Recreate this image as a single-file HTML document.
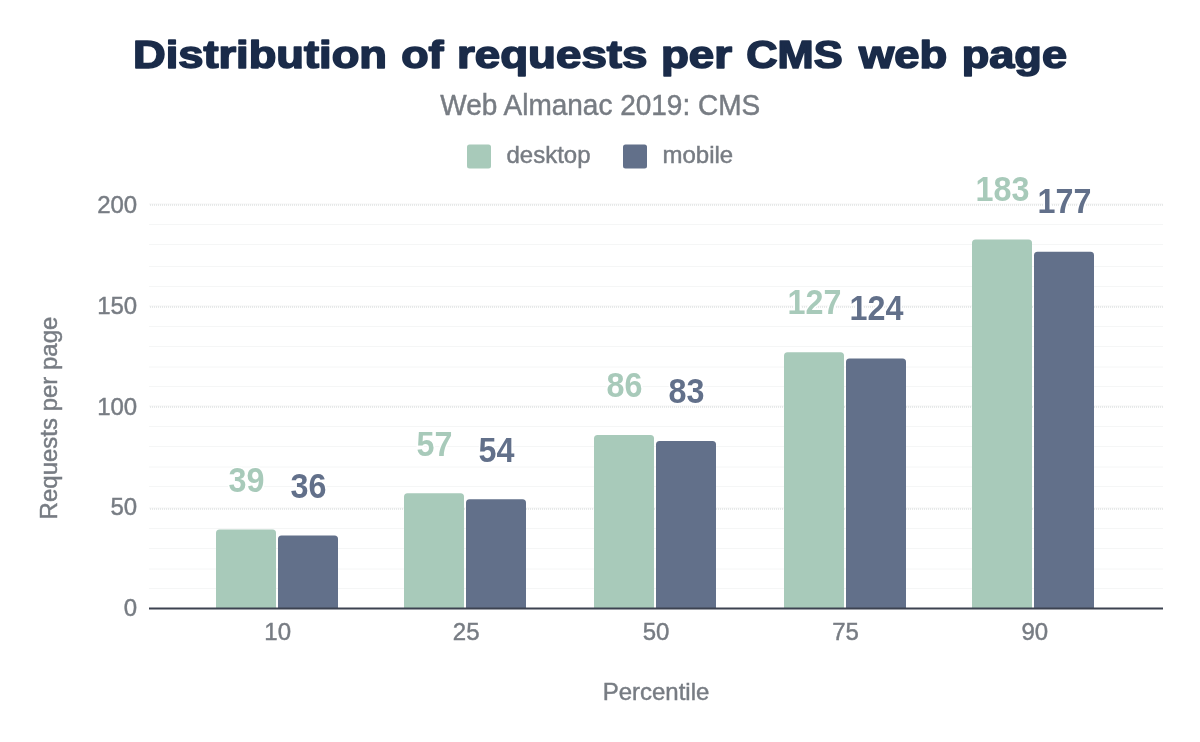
<!DOCTYPE html>
<html lang="en"><head><meta charset="utf-8"><title>Distribution of requests per CMS web page</title>
<style>html,body{margin:0;padding:0;background:#fff}svg{display:block}text{font-family:"Liberation Sans",Arial,Helvetica,sans-serif}</style></head><body>
<svg width="1200" height="742" viewBox="0 0 1200 742">
<rect width="1200" height="742" fill="#fff"/>
<g id="title" font-size="38" font-weight="bold" fill="#1a2b49" stroke="#1a2b49" stroke-width="1.6" stroke-linejoin="round">
<text x="132.97" y="67.9" textLength="254.03" lengthAdjust="spacingAndGlyphs">Distribution</text>
<text x="401.28" y="67.9" textLength="42.28" lengthAdjust="spacingAndGlyphs">of</text>
<text x="456.97" y="67.9" textLength="190.50" lengthAdjust="spacingAndGlyphs">requests</text>
<text x="660.95" y="67.9" textLength="71.07" lengthAdjust="spacingAndGlyphs">per</text>
<text x="746.18" y="67.9" textLength="96.40" lengthAdjust="spacingAndGlyphs">CMS</text>
<text x="859.00" y="67.9" textLength="88.30" lengthAdjust="spacingAndGlyphs">web</text>
<text x="961.72" y="67.9" textLength="105.27" lengthAdjust="spacingAndGlyphs">page</text>
</g>
<text transform="translate(600.2 114.7) scale(1 1.03)" font-size="28" text-anchor="middle" fill="#777c83" stroke="#777c83" stroke-width="0.45">Web Almanac 2019: CMS</text>
<rect x="467" y="144.5" width="24" height="24" rx="2.5" fill="#a8caba"/>
<text transform="translate(506.5 162.6) scale(1 1.03)" font-size="24" text-anchor="start" fill="#777c83" stroke="#777c83" stroke-width="0.45">desktop</text>
<rect x="623" y="144.5" width="24" height="24" rx="2.5" fill="#62708a"/>
<text transform="translate(662.5 162.6) scale(1 1.03)" font-size="24" text-anchor="start" fill="#777c83" stroke="#777c83" stroke-width="0.45">mobile</text>
<g stroke-width="1" fill="none">
<line x1="149" x2="1163" y1="224.5" y2="224.5" stroke="#f5f6f6"/>
<line x1="149" x2="1163" y1="244.5" y2="244.5" stroke="#f5f6f6"/>
<line x1="149" x2="1163" y1="266.5" y2="266.5" stroke="#f5f6f6"/>
<line x1="149" x2="1163" y1="286.5" y2="286.5" stroke="#f5f6f6"/>
<line x1="149" x2="1163" y1="326.5" y2="326.5" stroke="#f5f6f6"/>
<line x1="149" x2="1163" y1="346.5" y2="346.5" stroke="#f5f6f6"/>
<line x1="149" x2="1163" y1="367" y2="367" stroke="#f5f6f6"/>
<line x1="149" x2="1163" y1="386.5" y2="386.5" stroke="#f5f6f6"/>
<line x1="149" x2="1163" y1="426.5" y2="426.5" stroke="#f5f6f6"/>
<line x1="149" x2="1163" y1="446.5" y2="446.5" stroke="#f5f6f6"/>
<line x1="149" x2="1163" y1="467" y2="467" stroke="#f5f6f6"/>
<line x1="149" x2="1163" y1="486.5" y2="486.5" stroke="#f5f6f6"/>
<line x1="149" x2="1163" y1="528.5" y2="528.5" stroke="#f5f6f6"/>
<line x1="149" x2="1163" y1="548.5" y2="548.5" stroke="#f5f6f6"/>
<line x1="149" x2="1163" y1="569" y2="569" stroke="#f5f6f6"/>
<line x1="149" x2="1163" y1="588.5" y2="588.5" stroke="#f5f6f6"/>
<line x1="149" x2="1163" y1="204" y2="204" stroke="#f4f5f5"/>
<line x1="150" x2="1163" y1="205" y2="205" stroke="#d2d6d6" stroke-dasharray="1 1"/>
<line x1="149" x2="1163" y1="306" y2="306" stroke="#f4f5f5"/>
<line x1="150" x2="1163" y1="307" y2="307" stroke="#d2d6d6" stroke-dasharray="1 1"/>
<line x1="149" x2="1163" y1="406" y2="406" stroke="#f4f5f5"/>
<line x1="150" x2="1163" y1="407" y2="407" stroke="#d2d6d6" stroke-dasharray="1 1"/>
<line x1="149" x2="1163" y1="508" y2="508" stroke="#f4f5f5"/>
<line x1="150" x2="1163" y1="509" y2="509" stroke="#d2d6d6" stroke-dasharray="1 1"/>
</g>
<text transform="translate(137.2 212.8) scale(1 1.0)" font-size="24" text-anchor="end" fill="#777c83" stroke="#777c83" stroke-width="0.45">200</text>
<text transform="translate(137.2 313.6) scale(1 1.0)" font-size="24" text-anchor="end" fill="#777c83" stroke="#777c83" stroke-width="0.45">150</text>
<text transform="translate(137.2 414.5) scale(1 1.0)" font-size="24" text-anchor="end" fill="#777c83" stroke="#777c83" stroke-width="0.45">100</text>
<text transform="translate(137.2 515.3) scale(1 1.0)" font-size="24" text-anchor="end" fill="#777c83" stroke="#777c83" stroke-width="0.45">50</text>
<text transform="translate(137.2 616.2) scale(1 1.0)" font-size="24" text-anchor="end" fill="#777c83" stroke="#777c83" stroke-width="0.45">0</text>
<path d="M216 608.5 V532.99 Q216 529.49 219.5 529.49 H272.5 Q276 529.49 276 532.99 V608.5 Z" fill="#a8caba"/>
<path d="M278 608.5 V539.03 Q278 535.53 281.5 535.53 H334.5 Q338 535.53 338 539.03 V608.5 Z" fill="#62708a"/>
<text transform="translate(246.5 492.1) scale(1 1.07)" font-size="32.3" font-weight="bold" text-anchor="middle" fill="#a8caba" stroke="#fff" stroke-width="3" paint-order="stroke">39</text>
<text transform="translate(308.5 498.2) scale(1 1.07)" font-size="32.3" font-weight="bold" text-anchor="middle" fill="#62708a" stroke="#fff" stroke-width="3" paint-order="stroke">36</text>
<path d="M404 608.5 V496.76 Q404 493.26 407.5 493.26 H460.5 Q464 493.26 464 496.76 V608.5 Z" fill="#a8caba"/>
<path d="M466 608.5 V502.80 Q466 499.30 469.5 499.30 H522.5 Q526 499.30 526 502.80 V608.5 Z" fill="#62708a"/>
<text transform="translate(434.5 455.8) scale(1 1.07)" font-size="32.3" font-weight="bold" text-anchor="middle" fill="#a8caba" stroke="#fff" stroke-width="3" paint-order="stroke">57</text>
<text transform="translate(496.5 461.8) scale(1 1.07)" font-size="32.3" font-weight="bold" text-anchor="middle" fill="#62708a" stroke="#fff" stroke-width="3" paint-order="stroke">54</text>
<path d="M594 608.5 V438.38 Q594 434.88 597.5 434.88 H650.5 Q654 434.88 654 438.38 V608.5 Z" fill="#a8caba"/>
<path d="M656 608.5 V444.42 Q656 440.92 659.5 440.92 H712.5 Q716 440.92 716 444.42 V608.5 Z" fill="#62708a"/>
<text transform="translate(624.5 397.2) scale(1 1.07)" font-size="32.3" font-weight="bold" text-anchor="middle" fill="#a8caba" stroke="#fff" stroke-width="3" paint-order="stroke">86</text>
<text transform="translate(686.5 403.2) scale(1 1.07)" font-size="32.3" font-weight="bold" text-anchor="middle" fill="#62708a" stroke="#fff" stroke-width="3" paint-order="stroke">83</text>
<path d="M784 608.5 V355.85 Q784 352.35 787.5 352.35 H840.5 Q844 352.35 844 355.85 V608.5 Z" fill="#a8caba"/>
<path d="M846 608.5 V361.89 Q846 358.39 849.5 358.39 H902.5 Q906 358.39 906 361.89 V608.5 Z" fill="#62708a"/>
<text transform="translate(814.5 314.4) scale(1 1.07)" font-size="32.3" font-weight="bold" text-anchor="middle" fill="#a8caba" stroke="#fff" stroke-width="3" paint-order="stroke">127</text>
<text transform="translate(876.5 320.4) scale(1 1.07)" font-size="32.3" font-weight="bold" text-anchor="middle" fill="#62708a" stroke="#fff" stroke-width="3" paint-order="stroke">124</text>
<path d="M972 608.5 V243.12 Q972 239.62 975.5 239.62 H1028.5 Q1032 239.62 1032 243.12 V608.5 Z" fill="#a8caba"/>
<path d="M1034 608.5 V255.20 Q1034 251.70 1037.5 251.70 H1090.5 Q1094 251.70 1094 255.20 V608.5 Z" fill="#62708a"/>
<text transform="translate(1002.5 201.2) scale(1 1.07)" font-size="32.3" font-weight="bold" text-anchor="middle" fill="#a8caba" stroke="#fff" stroke-width="3" paint-order="stroke">183</text>
<text transform="translate(1064.5 213.4) scale(1 1.07)" font-size="32.3" font-weight="bold" text-anchor="middle" fill="#62708a" stroke="#fff" stroke-width="3" paint-order="stroke">177</text>
<line x1="149" x2="1163" y1="608.5" y2="608.5" stroke="#3c4250" stroke-width="2"/>
<text transform="translate(277.7 640) scale(1 1.0)" font-size="24" text-anchor="middle" fill="#777c83" stroke="#777c83" stroke-width="0.45">10</text>
<text transform="translate(466.2 640) scale(1 1.0)" font-size="24" text-anchor="middle" fill="#777c83" stroke="#777c83" stroke-width="0.45">25</text>
<text transform="translate(656 640) scale(1 1.0)" font-size="24" text-anchor="middle" fill="#777c83" stroke="#777c83" stroke-width="0.45">50</text>
<text transform="translate(845.6 640) scale(1 1.0)" font-size="24" text-anchor="middle" fill="#777c83" stroke="#777c83" stroke-width="0.45">75</text>
<text transform="translate(1034.8 640) scale(1 1.0)" font-size="24" text-anchor="middle" fill="#777c83" stroke="#777c83" stroke-width="0.45">90</text>
<text transform="translate(656 699.7) scale(1 1.03)" font-size="24" text-anchor="middle" fill="#777c83" stroke="#777c83" stroke-width="0.45">Percentile</text>
<text transform="translate(56.5 418) rotate(-90) scale(1 1.03)" font-size="24" text-anchor="middle" fill="#777c83" stroke="#777c83" stroke-width="0.45">Requests per page</text>
</svg></body></html>
